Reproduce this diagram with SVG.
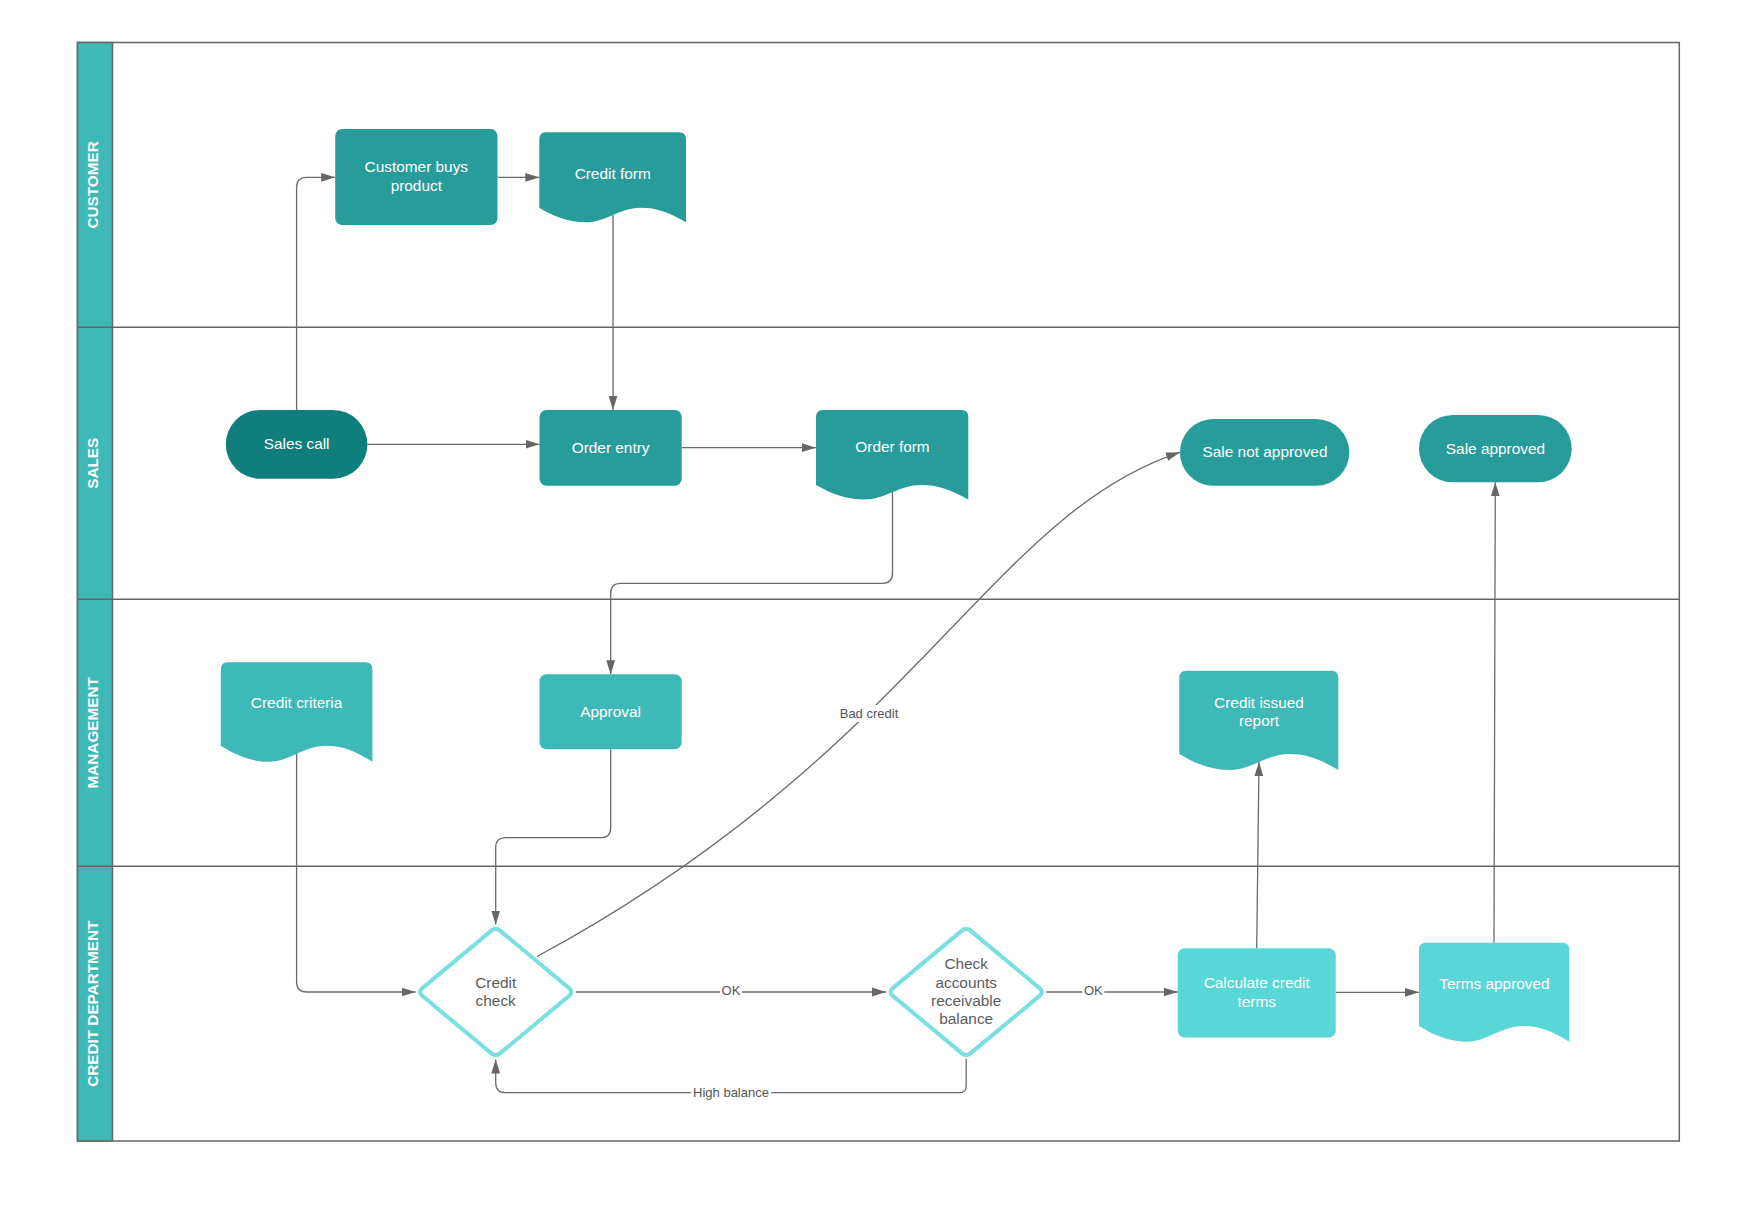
<svg xmlns="http://www.w3.org/2000/svg" width="1763" height="1221" viewBox="0 0 1763 1221">
<style>
.lane{fill:none;stroke:#666;stroke-width:1.5}
.hdr{fill:#3fb8b8;stroke:#666;stroke-width:1.5}
.lt{font-family:"Liberation Sans",Arial,sans-serif;font-size:15.3px;font-weight:bold;fill:#fff;text-anchor:middle}
.nt{font-family:"Liberation Sans",Arial,sans-serif;font-size:15.4px;fill:#fff;text-anchor:middle}
.dt{font-family:"Liberation Sans",Arial,sans-serif;font-size:15.4px;fill:#5c5c5c;text-anchor:middle}
.lb{font-family:"Liberation Sans",Arial,sans-serif;font-size:13px;fill:#555;text-anchor:middle}
.dark{fill:#0f7e7c}
.med{fill:#289c9b}
.light{fill:#3fb8b8}
.cyan{fill:#5ad6d6}
.dia{fill:#fff;stroke:#7adfe0;stroke-width:4}
.con{fill:none;stroke:#6b6b6b;stroke-width:1.3}
.lbg{fill:#fff}
</style>
<defs>
<marker id="arr" viewBox="0 0 14 10" refX="14" refY="5" markerWidth="14" markerHeight="10" orient="auto" markerUnits="userSpaceOnUse">
<path d="M0,0.6 L14,5 L0,9.4 Z" fill="#666"/>
</marker>
</defs>
<rect width="1763" height="1221" fill="#fff"/>
<g id="lanes">
<rect class="lane" x="77.5" y="42.5" width="1601.8" height="1098.5"/>
<rect class="hdr" x="77.5" y="42.5" width="35" height="1098.5"/>
<line class="lane" x1="77.5" y1="327.3" x2="1679.3" y2="327.3"/>
<line class="lane" x1="77.5" y1="599.3" x2="1679.3" y2="599.3"/>
<line class="lane" x1="77.5" y1="866.3" x2="1679.3" y2="866.3"/>
<text class="lt" x="98.3" y="184.9" transform="rotate(-90 98.3 184.9)">CUSTOMER</text>
<text class="lt" x="98.3" y="463.3" transform="rotate(-90 98.3 463.3)">SALES</text>
<text class="lt" x="98.3" y="732.8" transform="rotate(-90 98.3 732.8)">MANAGEMENT</text>
<text class="lt" x="98.3" y="1003.7" transform="rotate(-90 98.3 1003.7)">CREDIT DEPARTMENT</text>
</g>
<g id="connectors">
<path class="con" d="M296.6,410 V187.3 Q296.6,177.3 306.6,177.3 H335.2" marker-end="url(#arr)"/>
<path class="con" d="M497.5,177.3 H539.3" marker-end="url(#arr)"/>
<path class="con" d="M613,215 V410" marker-end="url(#arr)"/>
<path class="con" d="M367.4,444.3 H539.5" marker-end="url(#arr)"/>
<path class="con" d="M681.7,447.7 H816" marker-end="url(#arr)"/>
<path class="con" d="M892.5,492 V573.3 Q892.5,583.3 882.5,583.3 H620.7 Q610.7,583.3 610.7,593.3 V674.3" marker-end="url(#arr)"/>
<path class="con" d="M610.7,749.3 V827.7 Q610.7,837.7 600.7,837.7 H505.7 Q495.7,837.7 495.7,847.7 V924.5" marker-end="url(#arr)"/>
<path class="con" d="M296.6,753 V982 Q296.6,992 306.6,992 H415.5" marker-end="url(#arr)"/>
<path class="con" d="M575.7,992 H886" marker-end="url(#arr)"/>
<path class="con" d="M1046.2,992 H1177.7" marker-end="url(#arr)"/>
<path class="con" d="M966.2,1059 V1085.7 Q966.2,1092.7 959.2,1092.7 H505.7 Q495.7,1092.7 495.7,1082.7 V1059.5" marker-end="url(#arr)"/>
<path class="con" d="M1335.7,992.3 H1419" marker-end="url(#arr)"/>
<path class="con" d="M1256.7,948.3 L1259,762" marker-end="url(#arr)"/>
<path class="con" d="M1494,942.7 L1495.3,482.3" marker-end="url(#arr)"/>
<path class="con" d="M537,956.5 C916.7,751.5 990,514.05 1180,452.3" marker-end="url(#arr)"/>
<rect class="lbg" x="720" y="983" width="22" height="15"/>
<text class="lb" x="731" y="994.5">OK</text>
<rect class="lbg" x="1082.3" y="983" width="22" height="15"/>
<text class="lb" x="1093.3" y="994.5">OK</text>
<rect class="lbg" x="691" y="1084.5" width="80" height="16"/>
<text class="lb" x="731" y="1096.5">High balance</text>
<rect class="lbg" x="838" y="705" width="62" height="17"/>
<text class="lb" x="869" y="718.3">Bad credit</text>
</g>
<g id="customer-buys-product">
<rect class="med" x="335.2" y="129" width="162.3" height="96" rx="7"/>
<text class="nt" x="416.3" y="172.3">Customer buys</text>
<text class="nt" x="416.3" y="190.7">product</text>
</g>
<g id="credit-form">
<path class="med" d="M539.3,139.3 Q539.3,132.3 546.3,132.3 H679 Q686,132.3 686,139.3 V222.3 C668.4,212.1 656.7,207.7 640.5,207.7 C620,207.7 605.3,222.3 586.2,222.3 C568.6,222.3 554,216.5 539.3,207.7 Z"/>
<text class="nt" x="612.7" y="179">Credit form</text>
</g>
<g id="sales-call">
<rect class="dark" x="225.8" y="410" width="141.6" height="68.7" rx="34.3"/>
<text class="nt" x="296.6" y="449.3">Sales call</text>
</g>
<g id="order-entry">
<rect class="med" x="539.5" y="410" width="142.2" height="75.8" rx="7"/>
<text class="nt" x="610.6" y="452.7">Order entry</text>
</g>
<g id="order-form">
<path class="med" d="M816,417 Q816,410 823,410 H961.3 Q968.3,410 968.3,417 V499.5 C950,489.4 937.8,485 921.1,485 C899.8,485 884.5,499.5 864.7,499.5 C846.5,499.5 831.2,493.7 816,485 Z"/>
<text class="nt" x="892.5" y="451.7">Order form</text>
</g>
<g id="sale-not-approved">
<rect class="med" x="1180" y="419" width="169.3" height="66.7" rx="33.3"/>
<text class="nt" x="1265" y="457.3">Sale not approved</text>
</g>
<g id="sale-approved">
<rect class="med" x="1419" y="415" width="152.7" height="67.3" rx="33.6"/>
<text class="nt" x="1495.5" y="454">Sale approved</text>
</g>
<g id="credit-criteria">
<path class="light" d="M220.8,669.3 Q220.8,662.3 227.8,662.3 H365.4 Q372.4,662.3 372.4,669.3 V761.7 C354.2,750.5 342.1,745.7 325.4,745.7 C304.2,745.7 289,761.7 269.3,761.7 C251.1,761.7 236,755.3 220.8,745.7 Z"/>
<text class="nt" x="296.6" y="708.3">Credit criteria</text>
</g>
<g id="approval">
<rect class="light" x="539.5" y="674.3" width="142.2" height="75" rx="7"/>
<text class="nt" x="610.6" y="717.3">Approval</text>
</g>
<g id="credit-issued-report">
<path class="light" d="M1179.3,677.7 Q1179.3,670.7 1186.3,670.7 H1331.3 Q1338.3,670.7 1338.3,677.7 V770 C1319.2,758.8 1306.5,754 1289,754 C1266.8,754 1250.9,770 1230.2,770 C1211.1,770 1195.2,763.6 1179.3,754 Z"/>
<text class="nt" x="1259" y="707.7">Credit issued</text>
<text class="nt" x="1259" y="726">report</text>
</g>
<g id="credit-check">
<path class="dia" d="M491.09,930.84 Q495.7,927 500.31,930.84 L569.09,988.16 Q573.7,992 569.09,995.84 L500.31,1053.16 Q495.7,1057 491.09,1053.16 L422.31,995.84 Q417.7,992 422.31,988.16 Z"/>
<text class="dt" x="495.7" y="987.7">Credit</text>
<text class="dt" x="495.7" y="1006">check</text>
</g>
<g id="check-accounts">
<path class="dia" d="M961.59,930.84 Q966.2,927 970.81,930.84 L1039.59,988.16 Q1044.2,992 1039.59,995.84 L970.81,1053.16 Q966.2,1057 961.59,1053.16 L892.81,995.84 Q888.2,992 892.81,988.16 Z"/>
<text class="dt" x="966.2" y="969.3">Check</text>
<text class="dt" x="966.2" y="987.7">accounts</text>
<text class="dt" x="966.2" y="1006">receivable</text>
<text class="dt" x="966.2" y="1024.3">balance</text>
</g>
<g id="calculate-credit-terms">
<rect class="cyan" x="1177.7" y="948.3" width="158" height="89.2" rx="7"/>
<text class="nt" x="1256.7" y="987.7">Calculate credit</text>
<text class="nt" x="1256.7" y="1006.7">terms</text>
</g>
<g id="terms-approved">
<path class="cyan" d="M1419,949.7 Q1419,942.7 1426,942.7 H1562.3 Q1569.3,942.7 1569.3,949.7 V1041.7 C1551.3,1030.7 1539.2,1026 1522.7,1026 C1501.7,1026 1486.6,1041.7 1467.1,1041.7 C1449.1,1041.7 1434,1035.4 1419,1026 Z"/>
<text class="nt" x="1494.5" y="989">Terms approved</text>
</g>
</svg>
